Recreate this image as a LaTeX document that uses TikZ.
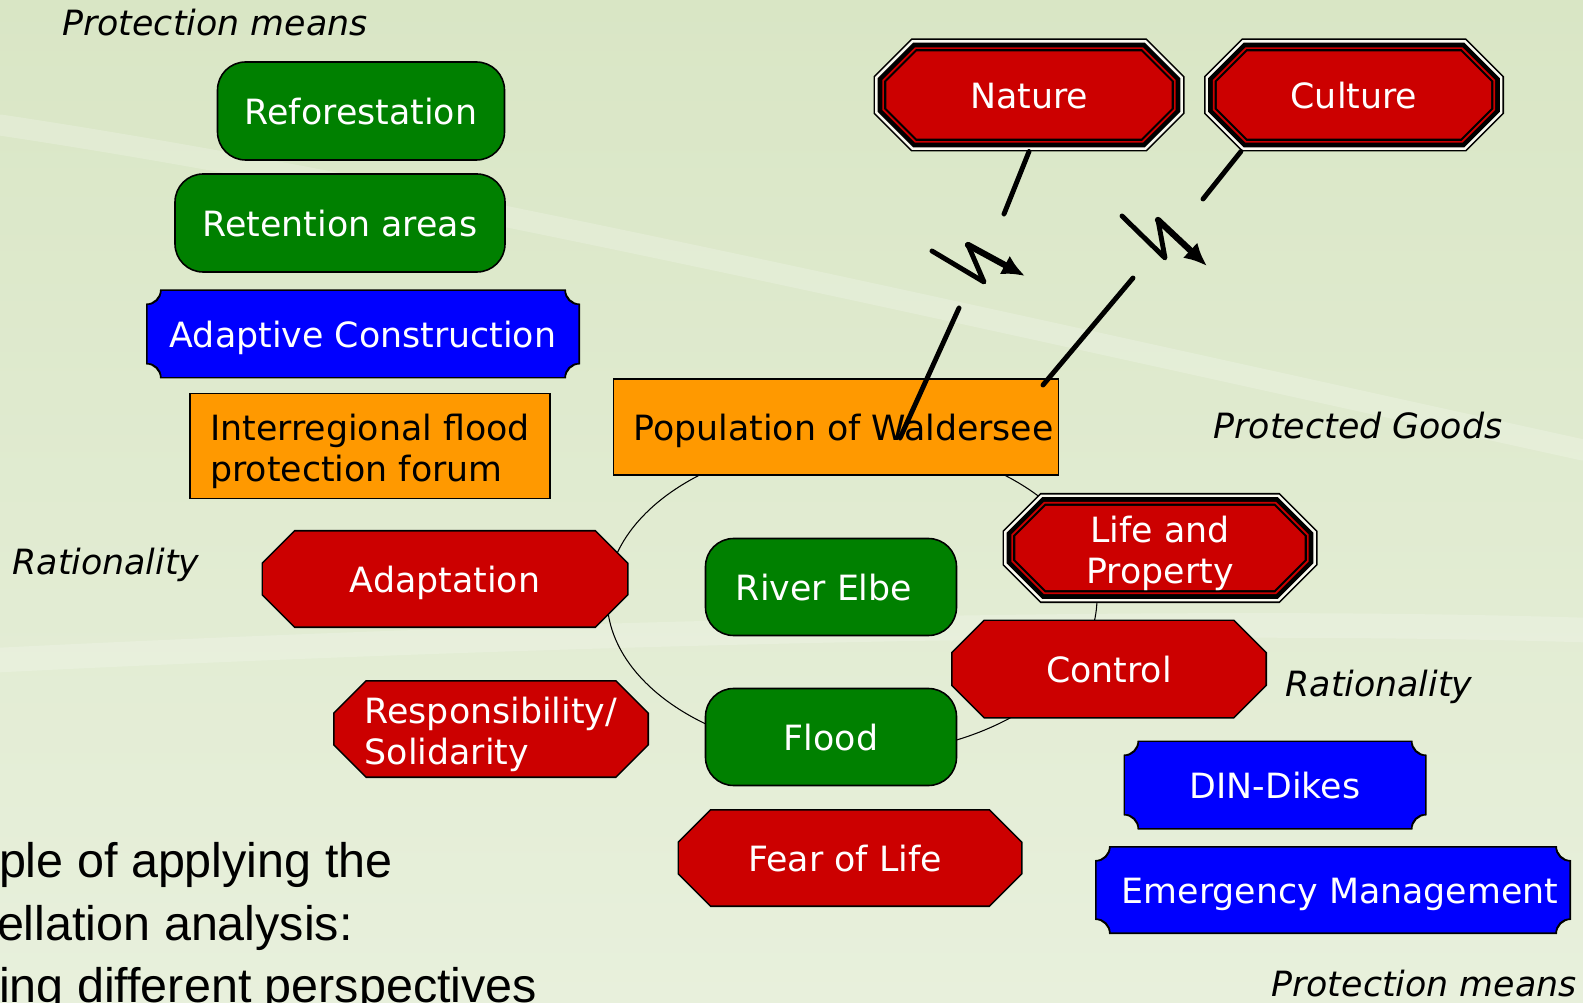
\documentclass[tikz,border=0pt]{standalone}
\usepackage{fontspec}
\setmainfont{DejaVu Sans}
\newfontfamily\slidefont{Liberation Sans}
\usepackage{tikz}
\usetikzlibrary{arrows.meta}

\definecolor{elbegreen}{RGB}{0,128,0}
\definecolor{valred}{RGB}{204,0,0}
\definecolor{dikeblue}{RGB}{0,0,255}
\definecolor{actorange}{RGB}{255,153,0}
\definecolor{ringwhite}{RGB}{250,250,240}
\definecolor{bgtop}{RGB}{217,230,197}
\definecolor{bgbot}{RGB}{232,240,220}

% octagon inside the node box: inset, chamfer, colour
\newcommand{\octa}[3]{%
  \fill[#3] ([shift={({#2+0.414*#1},{#1})}]path picture bounding box.south west)
    -- ([shift={({-#2-0.414*#1},{#1})}]path picture bounding box.south east)
    -- ([shift={({-#1},{#2+0.414*#1})}]path picture bounding box.south east)
    -- ([shift={({-#1},{-#2-0.414*#1})}]path picture bounding box.north east)
    -- ([shift={({-#2-0.414*#1},{-#1})}]path picture bounding box.north east)
    -- ([shift={({#2+0.414*#1},{-#1})}]path picture bounding box.north west)
    -- ([shift={({#1},{-#2-0.414*#1})}]path picture bounding box.north west)
    -- ([shift={({#1},{#2+0.414*#1})}]path picture bounding box.south west)
    -- cycle;}
% box with notched corners: inset, radius, colour
\newcommand{\notch}[3]{%
  \fill[#3] ([shift={({#1+#2},{#1})}]path picture bounding box.south west)
    -- ([shift={({-#1-#2},{#1})}]path picture bounding box.south east)
    arc[start angle=180, end angle=90, radius=#2]
    -- ([shift={({-#1},{-#1-#2})}]path picture bounding box.north east)
    arc[start angle=270, end angle=180, radius=#2]
    -- ([shift={({#1+#2},{-#1})}]path picture bounding box.north west)
    arc[start angle=0, end angle=-90, radius=#2]
    -- ([shift={({#1},{#1+#2})}]path picture bounding box.south west)
    arc[start angle=90, end angle=0, radius=#2]
    -- cycle;}
% strut for the first of two lines
\newcommand{\topline}{\rule{0pt}{21pt}}

\begin{document}
\begin{tikzpicture}[x=0.02cm, y=-0.02cm,
    every node/.style={font=\fontsize{19.8}{23.5}\selectfont, inner sep=0pt, outer sep=0pt,
                       execute at begin node={\rule[-0.205em]{0pt}{1.205em}}},
    wh/.style 2 args={minimum width=#1*0.02cm, minimum height=#2*0.02cm},
    stage/.style={rectangle, draw=black, line width=0.9pt, fill=elbegreen,
                  rounded corners=16pt, text=white},
    value/.style={rectangle, text=white,
                  path picture={\octa{0pt}{18.7pt}{black}\octa{0.9pt}{18.7pt}{valred}}},
    good/.style={rectangle, text=white,
                 path picture={\octa{0pt}{21.6pt}{black}\octa{0.9pt}{21.6pt}{ringwhite}
                               \octa{2.4pt}{21.6pt}{black}\octa{5pt}{21.6pt}{valred}
                               \octa{6.1pt}{21.6pt}{black}\octa{7.3pt}{21.6pt}{valred}}},
    measure/.style={rectangle, text=white,
                    path picture={\notch{0pt}{8pt}{black}\notch{0.9pt}{8pt}{dikeblue}}},
    actor/.style={rectangle, draw=black, line width=0.9pt, fill=actorange},
    heading/.style={font=\fontsize{19.8}{23.5}\selectfont\itshape},
    caption/.style={anchor=base west, font=\slidefont\fontsize{27.6}{33}\selectfont},
    bolt/.style={line width=2.8pt, line cap=round, line join=round}]

  \useasboundingbox (0,0) rectangle (1583,1003);
  \shade[top color=bgtop, bottom color=bgbot] (0,0) rectangle (1583,1003);
  \draw[white, opacity=0.2, line width=12pt, line cap=round]
    (0,125) .. controls (400,185) and (900,300) .. (1583,450);
  \draw[white, opacity=0.2, line width=14pt, line cap=round]
    (0,660) .. controls (400,640) and (1100,615) .. (1583,630);

  % the circle of values
  \draw[line width=0.6pt] (852,598) ellipse [x radius=245, y radius=157];

  % protection means
  \node (ref) [stage, wh={287}{98}] at (361,111) {Reforestation};
  \node (ret) [stage, wh={330}{98}] at (340,223) {Retention areas};
  \node (adc) [measure, wh={434}{89}] at (363,334) {Adaptive Construction};
  \node (forum) [actor, wh={360}{105}, align=left] at (370,446) {\topline Interregional flood\\protection forum};
  \node (din) [measure, wh={303}{89}] at (1275,785) {DIN-Dikes};
  \node (emerg) [measure, wh={476}{88}] at (1333,890) {\hspace*{0.28cm}Emergency Management};

  % actors and values
  \node (pop) [actor, wh={445}{96}] at (836,427) {\hspace*{0.3cm}Population of Waldersee};
  \node (adapt) [value, wh={367}{98}] at (445,579) {Adaptation};
  \node (elbe) [stage, wh={251}{97}] at (831,587) {River Elbe\hspace*{0.28cm}};
  \node (ctrl) [value, wh={316}{99}] at (1109,669) {Control};
  \node (resp) [value, wh={316}{98}, align=left] at (491,729) {\topline Responsibility/\\Solidarity};
  \node (flood) [stage, wh={251}{97}] at (831,737) {Flood};
  \node (fear) [value, wh={345}{98}] at (850,858) {Fear of Life\hspace*{0.2cm}};

  % protected goods
  \node (life) [good, wh={315}{110}, align=center] at (1160,548) {\topline Life and\\Property};
  \node (nat) [good, wh={311}{113}] at (1029,95) {Nature};
  \node (cult) [good, wh={300}{113}] at (1354,95) {Culture};

  % labels
  \node (pm1) [heading] at (215,22) {Protection means};
  \node (pg) [heading] at (1358,425) {Protected Goods};
  \node (rat1) [heading] at (106,561) {Rationality};
  \node (rat2) [heading] at (1379,683) {Rationality};
  \node (pm2) [heading] at (1424,983) {Protection means};

  \node (cap1) [caption] at (-1,877) {ple of applying the};
  \node (cap2) [caption] at (-3,940) {ellation analysis:};
  \node (cap3) [caption] at (-1,1002) {ing different perspectives};

  % lightning from nature
  \coordinate (n1) at (1004,214);
  \coordinate (n2) at (932,251);
  \coordinate (n3) at (984,282);
  \coordinate (n4) at (968,245);
  \coordinate (n5) at (1025,276);
  \coordinate (n6) at (959,308);
  \coordinate (n7) at (900,438);
  \draw[bolt] (nat.south) -- (n1);
  \draw[bolt] (n2) -- (n3) -- (n4);
  \draw[bolt, line width=3.6pt, -{Latex[length=13pt, width=12pt]}] (n4) -- (n5);
  \draw[bolt] (n6) -- (n7);

  % lightning from culture
  \coordinate (c1) at (1203,199);
  \coordinate (c2) at (1122,216);
  \coordinate (c3) at (1165,258);
  \coordinate (c4) at (1158,220);
  \coordinate (c5) at (1207,266);
  \coordinate (c6) at (1133,278);
  \coordinate (c7) at (1043,385);
  \draw[bolt] ([xshift=21pt]cult.south west) -- (c1);
  \draw[bolt] (c2) -- (c3) -- (c4);
  \draw[bolt, line width=3.6pt, -{Latex[length=13pt, width=12pt]}] (c4) -- (c5);
  \draw[bolt] (c6) -- (c7);
\end{tikzpicture}
\end{document}
